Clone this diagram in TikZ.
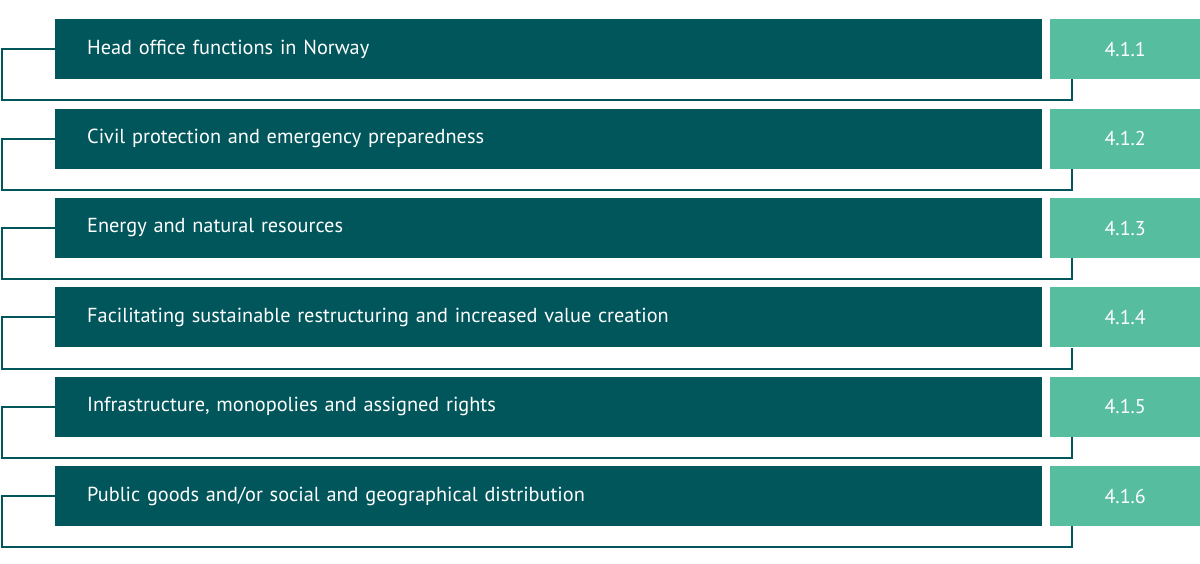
\documentclass[tikz,border=0pt]{standalone}
\usepackage{fontspec}
\setmainfont{PT Sans}
\definecolor{barteal}{HTML}{00565B}
\definecolor{numgreen}{HTML}{56BE9E}
\tikzset{
	topic/.style={fill=barteal, text=white, anchor=north west, inner sep=0pt,
		inner xsep=32pt, text width=923pt, minimum height=60pt, align=left,
		font=\fontsize{20.3pt}{24pt}\selectfont},
	section/.style={fill=numgreen, text=white, anchor=north west, inner sep=0pt,
		minimum width=150pt, minimum height=60pt,
		font=\fontsize{20pt}{24pt}\selectfont},
	link/.style={draw=barteal, line width=2pt}
}
\begin{document}
\begin{tikzpicture}[x=1pt, y=-1pt]
	\useasboundingbox (0, 0) rectangle (1200, 563);
	% Topic bars with section numbers.
	\foreach \i/\topictext in {%
		1/{Head office functions in Norway},
		2/{Civil protection and emergency preparedness},
		3/{Energy and natural resources},
		4/{Facilitating sustainable restructuring and increased value creation},
		5/{Infrastructure, monopolies and assigned rights},
		6/{Public goods and/or social and geographical distribution}}
	{
		\node[topic] (bar\i) at (55, {19 + (\i - 1) * 89.4}) {\topictext};
		\node[section] (num\i) at (1050, {19 + (\i - 1) * 89.4}) {4.1.\i};
		% Bracket from bar to number.
		\coordinate (turn\i) at ([xshift=22pt, yshift=-21pt]num\i.south west);
		\draw[link] (bar\i.west) -- ++(-53, 0) |- (turn\i)
			-- ([xshift=22pt]num\i.south west);
	}
\end{tikzpicture}
\end{document}
